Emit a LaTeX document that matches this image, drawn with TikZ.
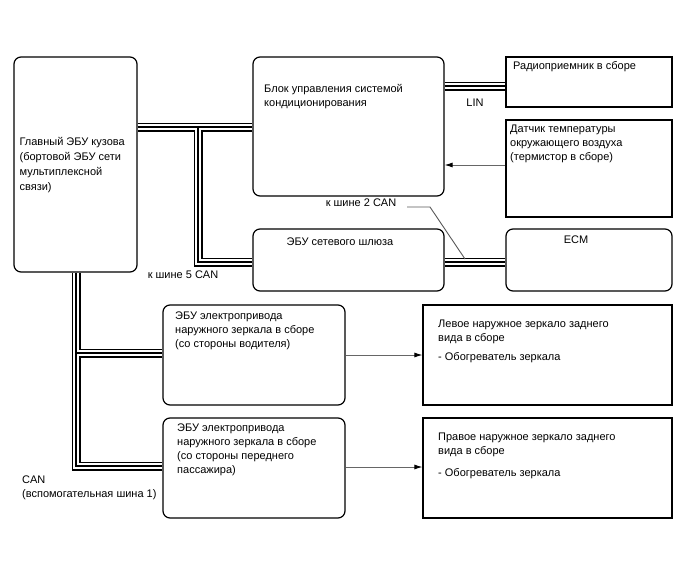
\documentclass[tikz,border=0pt]{standalone}
\usepackage{fontspec}
\setmainfont{Liberation Sans}
\usetikzlibrary{arrows.meta,positioning}

\tikzset{
  ubox/.style={draw, line width=1.2pt, rounded corners=7pt, inner sep=0pt},
  sbox/.style={draw, line width=1.2pt, inner sep=0pt},
  txt/.style={font=\fontsize{11}{13.8}\selectfont, align=left, inner sep=0pt},
  sig/.style={draw=gray!80!black, line width=0.9pt, -{Latex[length=8pt,width=5pt,black]}},
  lead/.style={draw=gray!70!black, line width=0.9pt}
}

\begin{document}
\begin{tikzpicture}[x=1pt,y=-1pt]
\useasboundingbox (0,0) rectangle (688,560);

% blocks
\node[ubox, minimum width=123, minimum height=215] (bcm) at (75.5,164.5) {};
\node[ubox, minimum width=191, minimum height=139] (clim) at (348.5,126.5) {};
\node[sbox, minimum width=166, minimum height=50] (radio) at (589,82) {};
\node[sbox, minimum width=166, minimum height=97] (sensor) at (589,168.5) {};
\node[ubox, minimum width=191, minimum height=62] (gw) at (348.5,260) {};
\node[ubox, minimum width=166, minimum height=62] (ecm) at (589,260) {};
\node[ubox, minimum width=182, minimum height=100] (drv) at (254,355) {};
\node[ubox, minimum width=182, minimum height=100] (pas) at (254,468) {};
\node[sbox, minimum width=249, minimum height=100] (lmir) at (547.5,355) {};
\node[sbox, minimum width=249, minimum height=100] (rmir) at (547.5,468) {};

% texts
\node[txt, font=\fontsize{11}{15}\selectfont, anchor=west] (bcmtxt) at ([xshift=6pt,yshift=-1pt]bcm.west) {Главный ЭБУ кузова\\(бортовой ЭБУ сети\\мультиплексной\\связи)};
\node[txt, anchor=north west] (climtxt) at (264,84) {Блок управления системой\\кондиционирования};
\node[txt, anchor=north west] (radiotxt) at (513,61) {Радиоприемник в сборе};
\node[txt, anchor=north west] (sensortxt) at (510,125) {Датчик температуры\\окружающего воздуха\\(термистор в сборе)};
\node[txt] (gwtxt) at (340,242) {ЭБУ сетевого шлюза};
\node[txt] (ecmtxt) at (576,240) {ECM};
\node[txt, anchor=north west] (drvtxt) at (175,312) {ЭБУ электропривода\\наружного зеркала в сборе\\(со стороны водителя)};
\node[txt, anchor=north west] (pastxt) at (177,424) {ЭБУ электропривода\\наружного зеркала в сборе\\(со стороны переднего\\пассажира)};
\node[txt, anchor=north west] (lmirtxt) at (438,320) {Левое наружное зеркало заднего\\вида в сборе\\[5pt]- Обогреватель зеркала};
\node[txt, anchor=north west] (rmirtxt) at (438,433) {Правое наружное зеркало заднего\\вида в сборе\\[8pt]- Обогреватель зеркала};

% labels
\node[txt] (lin) at (475,103) {LIN};
\node[txt] (can2) at (361,203) {к шине 2 CAN};
\node[txt] (can5) at (183,275) {к шине 5 CAN};
\node[txt, anchor=north west] (can1) at (22,476) {CAN\\(вспомогательная шина 1)};

% bus lines
\coordinate (t1) at (198,127);
\coordinate (t2) at (198,262);
\coordinate (b1) at (76,353);
\coordinate (b2) at (76,466);
\foreach \lw/\col in {9/black,6/white,2/black}{
  \draw[line width=\lw pt, \col] (bcm.east |- t1) -- (clim.west |- t1);
  \draw[line width=\lw pt, \col] (t1) -- (t2) -- (gw.west |- t2);
  \draw[line width=\lw pt, \col] (gw.east |- t2) -- (ecm.west |- t2);
  \draw[line width=\lw pt, \col] (clim.east |- 0,86) -- (radio.west |- 0,86);
  \draw[line width=\lw pt, \col] (bcm.south -| b2) -- (b2) -- (pas.west |- b2);
  \draw[line width=\lw pt, \col] (b1) -- (drv.west |- b1);
}

% signals
\draw[sig] (sensor.west |- 0,165) -- (clim.east |- 0,165);
\draw[sig] (drv.east) -- (lmir.west);
\draw[sig] (pas.east |- 0,467) -- (rmir.west |- 0,467);

% leader for CAN 2
\coordinate (l1) at (407,207);
\coordinate (l2) at (430,207);
\coordinate (l3) at (465,259);
\draw[lead] (l1) -- (l2) -- (l3);

\end{tikzpicture}
\end{document}
